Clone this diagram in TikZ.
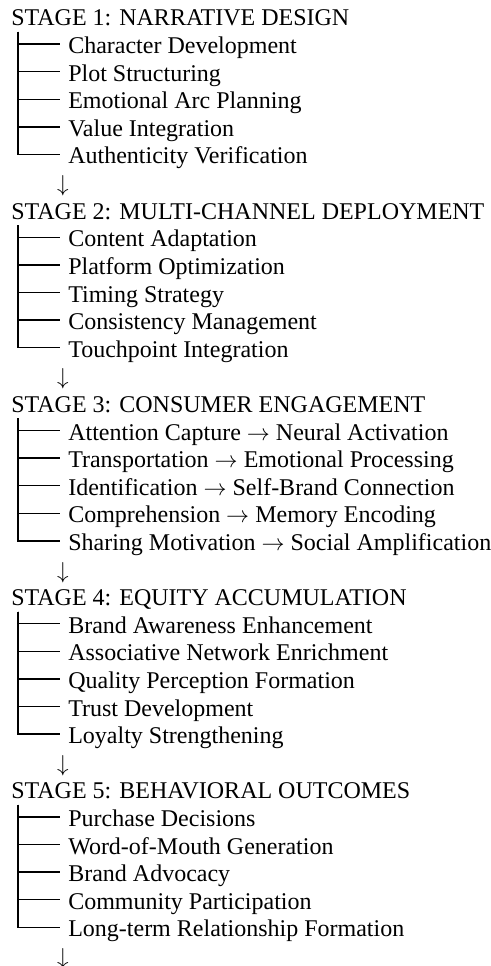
\documentclass[tikz,border=0pt]{standalone}
\usepackage{fontspec}
\setmainfont{Liberation Serif}
\usetikzlibrary{positioning}

\newcommand{\then}{ $\rightarrow$ }

\begin{document}
\begin{tikzpicture}[
  x=0.75pt, y=-0.75pt,
  every node/.style={inner sep=0pt, font=\fontsize{18}{20}\selectfont},
  stagetitle/.style={anchor=base west},
  leaf/.style={anchor=base west, inner xsep=6pt},
  branch/.style={line width=1pt},
]
\useasboundingbox (0,0) rectangle (491,966);
% one block of the tree per stage: title, five leaves, arrow below
\foreach \n/\title/\items in {
  1/{NARRATIVE DESIGN}/{Character Development,Plot Structuring,Emotional Arc Planning,Value Integration,Authenticity Verification},
  2/{MULTI-CHANNEL DEPLOYMENT}/{Content Adaptation,Platform Optimization,Timing Strategy,Consistency Management,Touchpoint Integration},
  3/{CONSUMER ENGAGEMENT}/{Attention Capture\then Neural Activation,Transportation\then Emotional Processing,Identification\then Self-Brand Connection,Comprehension\then Memory Encoding,Sharing Motivation\then Social Amplification},
  4/{EQUITY ACCUMULATION}/{Brand Awareness Enhancement,Associative Network Enrichment,Quality Perception Formation,Trust Development,Loyalty Strengthening},
  5/{BEHAVIORAL OUTCOMES}/{Purchase Decisions,Word-of-Mouth Generation,Brand Advocacy,Community Participation,Long-term Relationship Formation}%
}{
  \pgfmathsetmacro{\top}{26+27.6*7*(\n-1)}
  \node[stagetitle] (stage\n) at (11,\top) {STAGE \n: \title};
  \coordinate (trunk\n) at ([xshift=5.25pt,yshift=-4.5pt]stage\n.base west);
  \foreach \leafname [count=\i] in \items {
    \node[leaf] (item\n-\i) at (60,\top+27.6*\i) {\leafname};
    \draw[branch] (trunk\n) |- ([yshift=7.1pt]item\n-\i.base west);
  }
  \node[anchor=base] (arrow\n) at (63,\top+27.6*6) {$\downarrow$};
}
\end{tikzpicture}
\end{document}
